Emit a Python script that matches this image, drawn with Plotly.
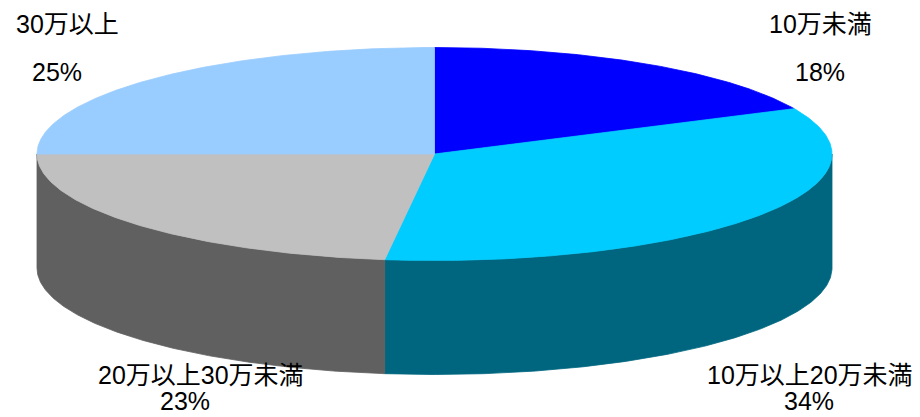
import numpy as np
import plotly.graph_objects as go

# Income bands and their shares (%)
categories = ["10万未満", "10万以上20万未満", "20万以上30万未満", "30万以上"]
shares = [18, 34, 23, 25]
top_colors = ["#0000FF", "#00CCFF", "#C0C0C0", "#99CCFF"]
side_colors = ["#0000A0", "#00667F", "#606060", "#5C7A99"]

# Label anchor points (pixel space) for name and percentage
name_pos = [(820, 24), (810, 375), (201, 375), (67, 24)]
pct_pos = [(820, 72), (809, 401), (185, 401), (57, 72)]

W, H = 920, 417
CX, CY = 434.5, 154.0   # centre of the top ellipse
RX, RY = 397.5, 106.5   # radii of the top ellipse
DEPTH = 114.0           # thickness of the disc


def pt(theta_deg, dy=0.0):
    t = np.radians(theta_deg)
    return CX + RX * np.sin(t), CY - RY * np.cos(t) + dy


fig = go.Figure()

vals = np.array(shares, dtype=float)
bounds = np.concatenate([[0.0], np.cumsum(vals) / vals.sum() * 360.0])

# Visible side walls (front half: 90..270 degrees clockwise from top)
for i in range(len(vals)):
    a0, a1 = max(bounds[i], 90.0), min(bounds[i + 1], 270.0)
    if a1 <= a0:
        continue
    th = np.linspace(a0, a1, 200)
    xt, yt = pt(th)
    xb, yb = pt(th[::-1], DEPTH)
    xs = np.concatenate([xt, xb, xt[:1]])
    ys = np.concatenate([yt, yb, yt[:1]])
    fig.add_trace(go.Scatter(
        x=xs, y=ys, mode="lines", fill="toself",
        fillcolor=side_colors[i], line=dict(color=side_colors[i], width=0.8),
        hoverinfo="skip", showlegend=False))

# Top surfaces of the slices
for i in range(len(vals)):
    th = np.linspace(bounds[i], bounds[i + 1], 300)
    xa, ya = pt(th)
    xs = np.concatenate([[CX], xa, [CX]])
    ys = np.concatenate([[CY], ya, [CY]])
    fig.add_trace(go.Scatter(
        x=xs, y=ys, mode="lines", fill="toself",
        fillcolor=top_colors[i], line=dict(color=top_colors[i], width=0.8),
        hoverinfo="skip", showlegend=False))

font = dict(family="Liberation Sans, Arial, Noto Sans CJK JP", size=25, color="#000000")
annotations = []
for i, name in enumerate(categories):
    annotations.append(dict(x=name_pos[i][0], y=name_pos[i][1], xref="x", yref="y",
                            text=name, showarrow=False, font=font,
                            xanchor="center", yanchor="middle"))
    annotations.append(dict(x=pct_pos[i][0], y=pct_pos[i][1], xref="x", yref="y",
                            text=f"{shares[i]}%", showarrow=False, font=font,
                            xanchor="center", yanchor="middle"))

fig.update_layout(
    width=W, height=H,
    margin=dict(l=0, r=0, t=0, b=0),
    paper_bgcolor="white", plot_bgcolor="white",
    xaxis=dict(range=[0, W], visible=False, fixedrange=True),
    yaxis=dict(range=[H, 0], visible=False, fixedrange=True),
    annotations=annotations,
)

fig.write_html("out.html")
